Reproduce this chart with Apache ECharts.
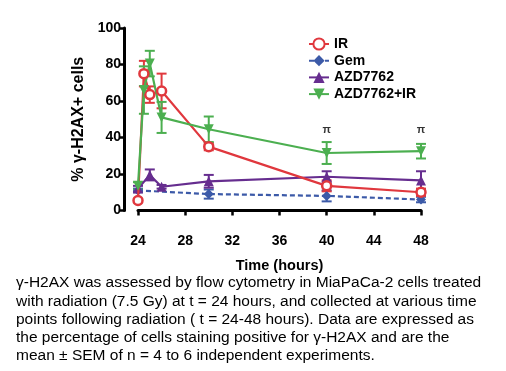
<!DOCTYPE html>
<html><head><meta charset="utf-8">
<script src="https://cdn.jsdelivr.net/npm/echarts@6/dist/echarts.min.js"></script>
<style>
html,body{margin:0;padding:0;background:#fff;}
#c{width:506px;height:371px;}
</style></head><body><div id="c"></div>
<script>
const xTicks = [24, 28, 32, 36, 40, 44, 48];
const yTicks = [0, 20, 40, 60, 80, 100];

const irTime = [24, 24.5, 25, 26, 30, 40, 48];
const irMean = [5.5, 75, 63.5, 65.5, 35, 13.5, 10];
const irSem  = [1, 7, 4.5, 9.5, 2, 3, 2];

const gemTime = [24, 30, 40, 48];
const gemMean = [11, 9, 8, 6];
const gemSem  = [1, 2.5, 3, 1.5];

const azdTime = [24, 25, 26, 30, 40, 48];
const azdMean = [12, 19.5, 13, 16, 18.5, 16.5];
const azdSem  = [1.5, 3, 1, 3.5, 3, 5];

const comboTime = [24, 24.5, 25, 26, 30, 40, 48];
const comboMean = [13.5, 66, 80.5, 51, 44.5, 31.5, 32.5];
const comboSem  = [2, 13, 7, 8.5, 7, 6, 4];

const markTime = [40, 48];
const markY = [44, 44];

const C_IR = '#e0383e', C_GEM = '#3c5aa8', C_AZD = '#662d8f', C_COMBO = '#4caf50';

function pts(t, m){ return t.map((x,i)=>[x, m[i]]); }
function errData(t, m, s){ return t.map((x,i)=>[x, m[i]-s[i], m[i]+s[i]]); }
function errSeries(t, m, s, color){
  return {
    type:'custom', silent:true, z:1,
    data: errData(t,m,s),
    renderItem: function(params, api){
      const lo = api.coord([api.value(0), api.value(1)]);
      const hi = api.coord([api.value(0), api.value(2)]);
      const w = 5;
      const st = {stroke: color, lineWidth: 2};
      return {type:'group', children:[
        {type:'line', shape:{x1:lo[0],y1:lo[1],x2:hi[0],y2:hi[1]}, style:st},
        {type:'line', shape:{x1:lo[0]-w,y1:lo[1],x2:lo[0]+w,y2:lo[1]}, style:st},
        {type:'line', shape:{x1:hi[0]-w,y1:hi[1],x2:hi[0]+w,y2:hi[1]}, style:st}
      ]};
    }
  };
}

const chart = echarts.init(document.getElementById('c'));
const font = 'Liberation Sans, Arial, sans-serif';
chart.setOption({
  animation:false,
  textStyle:{fontFamily:font},
  grid:{left:138, right:85, top:28, bottom:160.5},
  legend:{
    orient:'vertical', left:303, top:32, itemGap:2.7, itemWidth:20, itemHeight:14,
    textStyle:{fontFamily:font, fontWeight:'bold', fontSize:14, color:'#000'},
    data:['IR','Gem','AZD7762','AZD7762+IR']
  },
  xAxis:{
    type:'value', min:24, max:48, interval:4, offset:14.5,
    name:'Time (hours)', nameLocation:'middle', nameGap:33,
    nameTextStyle:{fontFamily:font, fontWeight:'bold', fontSize:14.5, color:'#000'},
    axisLine:{show:true, lineStyle:{color:'#000', width:3}},
    axisTick:{show:true, length:5, lineStyle:{color:'#000', width:2.5}},
    axisLabel:{fontFamily:font, fontWeight:'bold', fontSize:14, color:'#000', margin:9,
      formatter: v => xTicks.includes(v) ? String(v) : ''},
    splitLine:{show:false}
  },
  yAxis:{
    type:'value', min:0, max:100, interval:20, offset:14,
    name:'% γ-H2AX+ cells', nameLocation:'middle', nameGap:37,
    nameTextStyle:{fontFamily:font, fontWeight:'bold', fontSize:16, color:'#000'},
    axisLine:{show:true, lineStyle:{color:'#000', width:3}},
    axisTick:{show:true, length:5, lineStyle:{color:'#000', width:2.5}},
    axisLabel:{fontFamily:font, fontWeight:'bold', fontSize:14, color:'#000', margin:3,
      formatter: v => yTicks.includes(v) ? String(v) : ''},
    splitLine:{show:false}
  },
  graphic:[{
    type:'text', left:16, top:274,
    style:{
      text:'γ-H2AX was assessed by flow cytometry in MiaPaCa-2 cells treated\nwith radiation (7.5 Gy) at t = 24 hours, and collected at various time\npoints following radiation ( t = 24-48 hours). Data are expressed as\nthe percentage of cells staining positive for γ-H2AX and are the\nmean ± SEM of n = 4 to 6 independent experiments.',
      font:'15.5px Liberation Sans, Arial, sans-serif', lineHeight:18.2, fill:'#000'
    }
  }],
  series:[
    errSeries(gemTime, gemMean, gemSem, C_GEM),
    errSeries(azdTime, azdMean, azdSem, C_AZD),
    errSeries(irTime, irMean, irSem, C_IR),
    errSeries(comboTime, comboMean, comboSem, C_COMBO),
    {name:'Gem', type:'line', z:3, data:pts(gemTime,gemMean), symbol:'diamond', symbolSize:10,
      lineStyle:{color:C_GEM, width:2.2, type:[5,3]}, itemStyle:{color:C_GEM}},
    {name:'AZD7762', type:'line', z:3, data:pts(azdTime,azdMean), symbol:'triangle', symbolSize:10,
      lineStyle:{color:C_AZD, width:2.2}, itemStyle:{color:C_AZD}},
    {name:'IR', type:'line', z:4, data:pts(irTime,irMean), symbol:'circle', symbolSize:9,
      lineStyle:{color:C_IR, width:2.2}, itemStyle:{color:'#fff', borderColor:C_IR, borderWidth:2.5}},
    {name:'AZD7762+IR', type:'line', z:4, data:pts(comboTime,comboMean), symbol:'triangle', symbolRotate:180, symbolSize:10,
      lineStyle:{color:C_COMBO, width:2.2}, itemStyle:{color:C_COMBO}},
    {type:'scatter', silent:true, z:5, data:pts(markTime, markY), symbolSize:0,
      label:{show:true, position:'inside', formatter:'π', fontFamily:font, fontWeight:'bold', fontSize:11, color:'#000'}}
  ]
});
</script></body></html>
